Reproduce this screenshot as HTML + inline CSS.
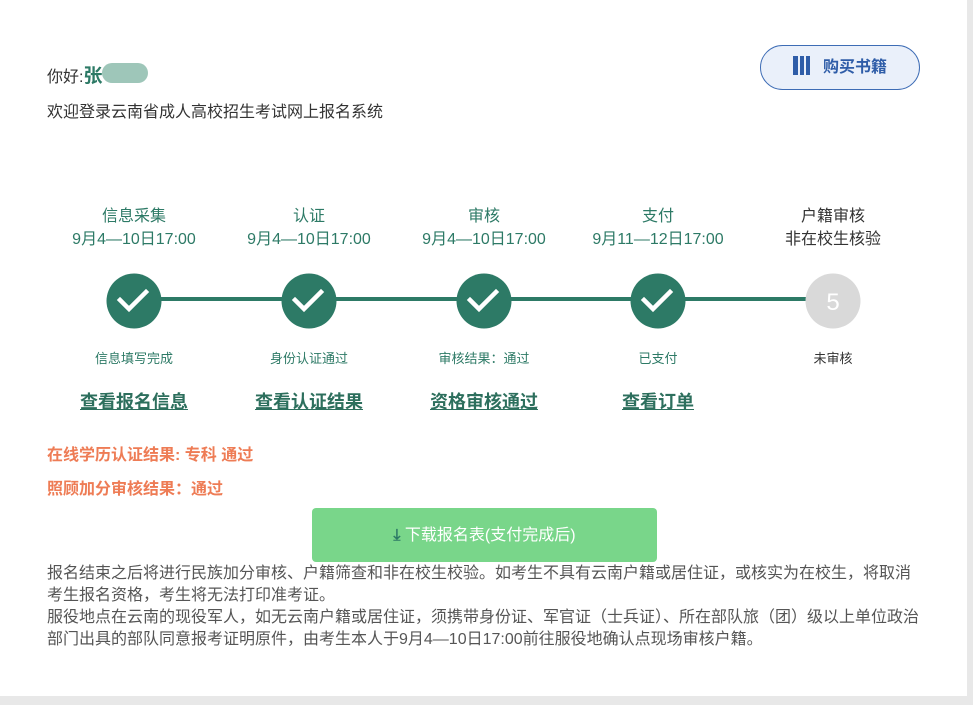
<!DOCTYPE html>
<html><head><meta charset="utf-8"><style>
body{margin:0;width:973px;height:705px;background:#e8e8e8;font-family:"Liberation Sans","Noto Sans CJK SC",sans-serif;position:relative;overflow:hidden}
.card{position:absolute;left:0;top:0;width:967px;height:696px;background:#fff}
.a{position:absolute;white-space:nowrap}
.c{text-align:center;width:200px}
.top{color:#2d7a66;font-size:16px;line-height:23px}
.sub{font-size:13px;color:#2d7a66;top:348px}
.lk{font-size:18px;font-weight:bold;color:#2d6f5d;text-decoration:underline;top:388px}
</style></head><body><div class="card">
<div class="a" style="left:47px;top:61px;font-size:16px;color:#333">你好:<b style="color:#2d7a66;font-size:19px">张</b><span style="display:inline-block;width:46px;height:20px;background:#9ec6b9;border-radius:10px;vertical-align:-1px"></span></div>
<div class="a" style="left:47px;top:98px;font-size:16px;color:#333">欢迎登录云南省成人高校招生考试网上报名系统</div>
<div class="a" style="left:760px;top:45px;width:158px;height:43px;border:1.5px solid #3d6cb5;border-radius:23px;background:#eaf0fa;color:#2f5da8;font-size:16px;font-weight:bold;line-height:43px;text-align:center"><span style="display:inline-block;width:20px;height:19px;vertical-align:-3px;margin-right:10px;background:linear-gradient(90deg,#2f5da8 0 5px,transparent 5px 7px,#2f5da8 7px 11px,transparent 11px 13px,#2f5da8 13px 17px,transparent 17px)"></span>购买书籍</div>
<div class="a" style="left:134px;top:297px;width:700px;height:4px;background:#2d7a66"></div>
<div class="a c top" style="left:34px;top:205px">信息采集<br>9月4—10日17:00</div>
<div class="a c top" style="left:209px;top:205px">认证<br>9月4—10日17:00</div>
<div class="a c top" style="left:384px;top:205px">审核<br>9月4—10日17:00</div>
<div class="a c top" style="left:558px;top:205px">支付<br>9月11—12日17:00</div>
<div class="a c top" style="left:733px;top:205px;color:#333">户籍审核<br>非在校生核验</div>
<svg class="a" style="left:0;top:0" width="973" height="400">
<g fill="#2d7a66"><circle cx="134" cy="301" r="27.5"/><circle cx="309" cy="301" r="27.5"/><circle cx="484" cy="301" r="27.5"/><circle cx="658" cy="301" r="27.5"/></g>
<circle cx="833" cy="301" r="27.5" fill="#d9d9d9"/>
<g fill="none" stroke="#fff" stroke-width="4.5" stroke-linecap="square"><path d="M120 300l9 9 17-17"/><path d="M295 300l9 9 17-17"/><path d="M470 300l9 9 17-17"/><path d="M644 300l9 9 17-17"/></g>
<text x="833" y="310" font-size="24" fill="#fff" text-anchor="middle" font-family="Liberation Sans">5</text>
</svg>
<div class="a c sub" style="left:34px">信息填写完成</div>
<div class="a c sub" style="left:209px">身份认证通过</div>
<div class="a c sub" style="left:384px">审核结果：通过</div>
<div class="a c sub" style="left:558px">已支付</div>
<div class="a c sub" style="left:733px;color:#333">未审核</div>
<div class="a c lk" style="left:34px">查看报名信息</div>
<div class="a c lk" style="left:209px">查看认证结果</div>
<div class="a c lk" style="left:384px">资格审核通过</div>
<div class="a c lk" style="left:558px">查看订单</div>
<div class="a" style="left:47px;top:441px;font-size:16px;font-weight:bold;color:#ee7c55">在线学历认证结果: 专科 通过</div>
<div class="a" style="left:47px;top:475px;font-size:16px;font-weight:bold;color:#ee7c55">照顾加分审核结果：通过</div>
<div class="a" style="left:312px;top:508px;width:345px;height:54px;background:#79d68a;border-radius:4px;color:#fff;font-size:16px;line-height:56px;text-align:center"><span style="color:#2d7a66;font-weight:bold">⤓</span> 下载报名表(支付完成后)</div>
<div class="a" style="left:47px;top:563px;width:875px;white-space:normal;font-size:16px;line-height:22px;color:#555">报名结束之后将进行民族加分审核、户籍筛查和非在校生校验。如考生不具有云南户籍或居住证，或核实为在校生，将取消考生报名资格，考生将无法打印准考证。<br>服役地点在云南的现役军人，如无云南户籍或居住证，须携带身份证、军官证（士兵证）、所在部队旅（团）级以上单位政治部门出具的部队同意报考证明原件，由考生本人于9月4—10日17:00前往服役地确认点现场审核户籍。</div>
</div></body></html>
